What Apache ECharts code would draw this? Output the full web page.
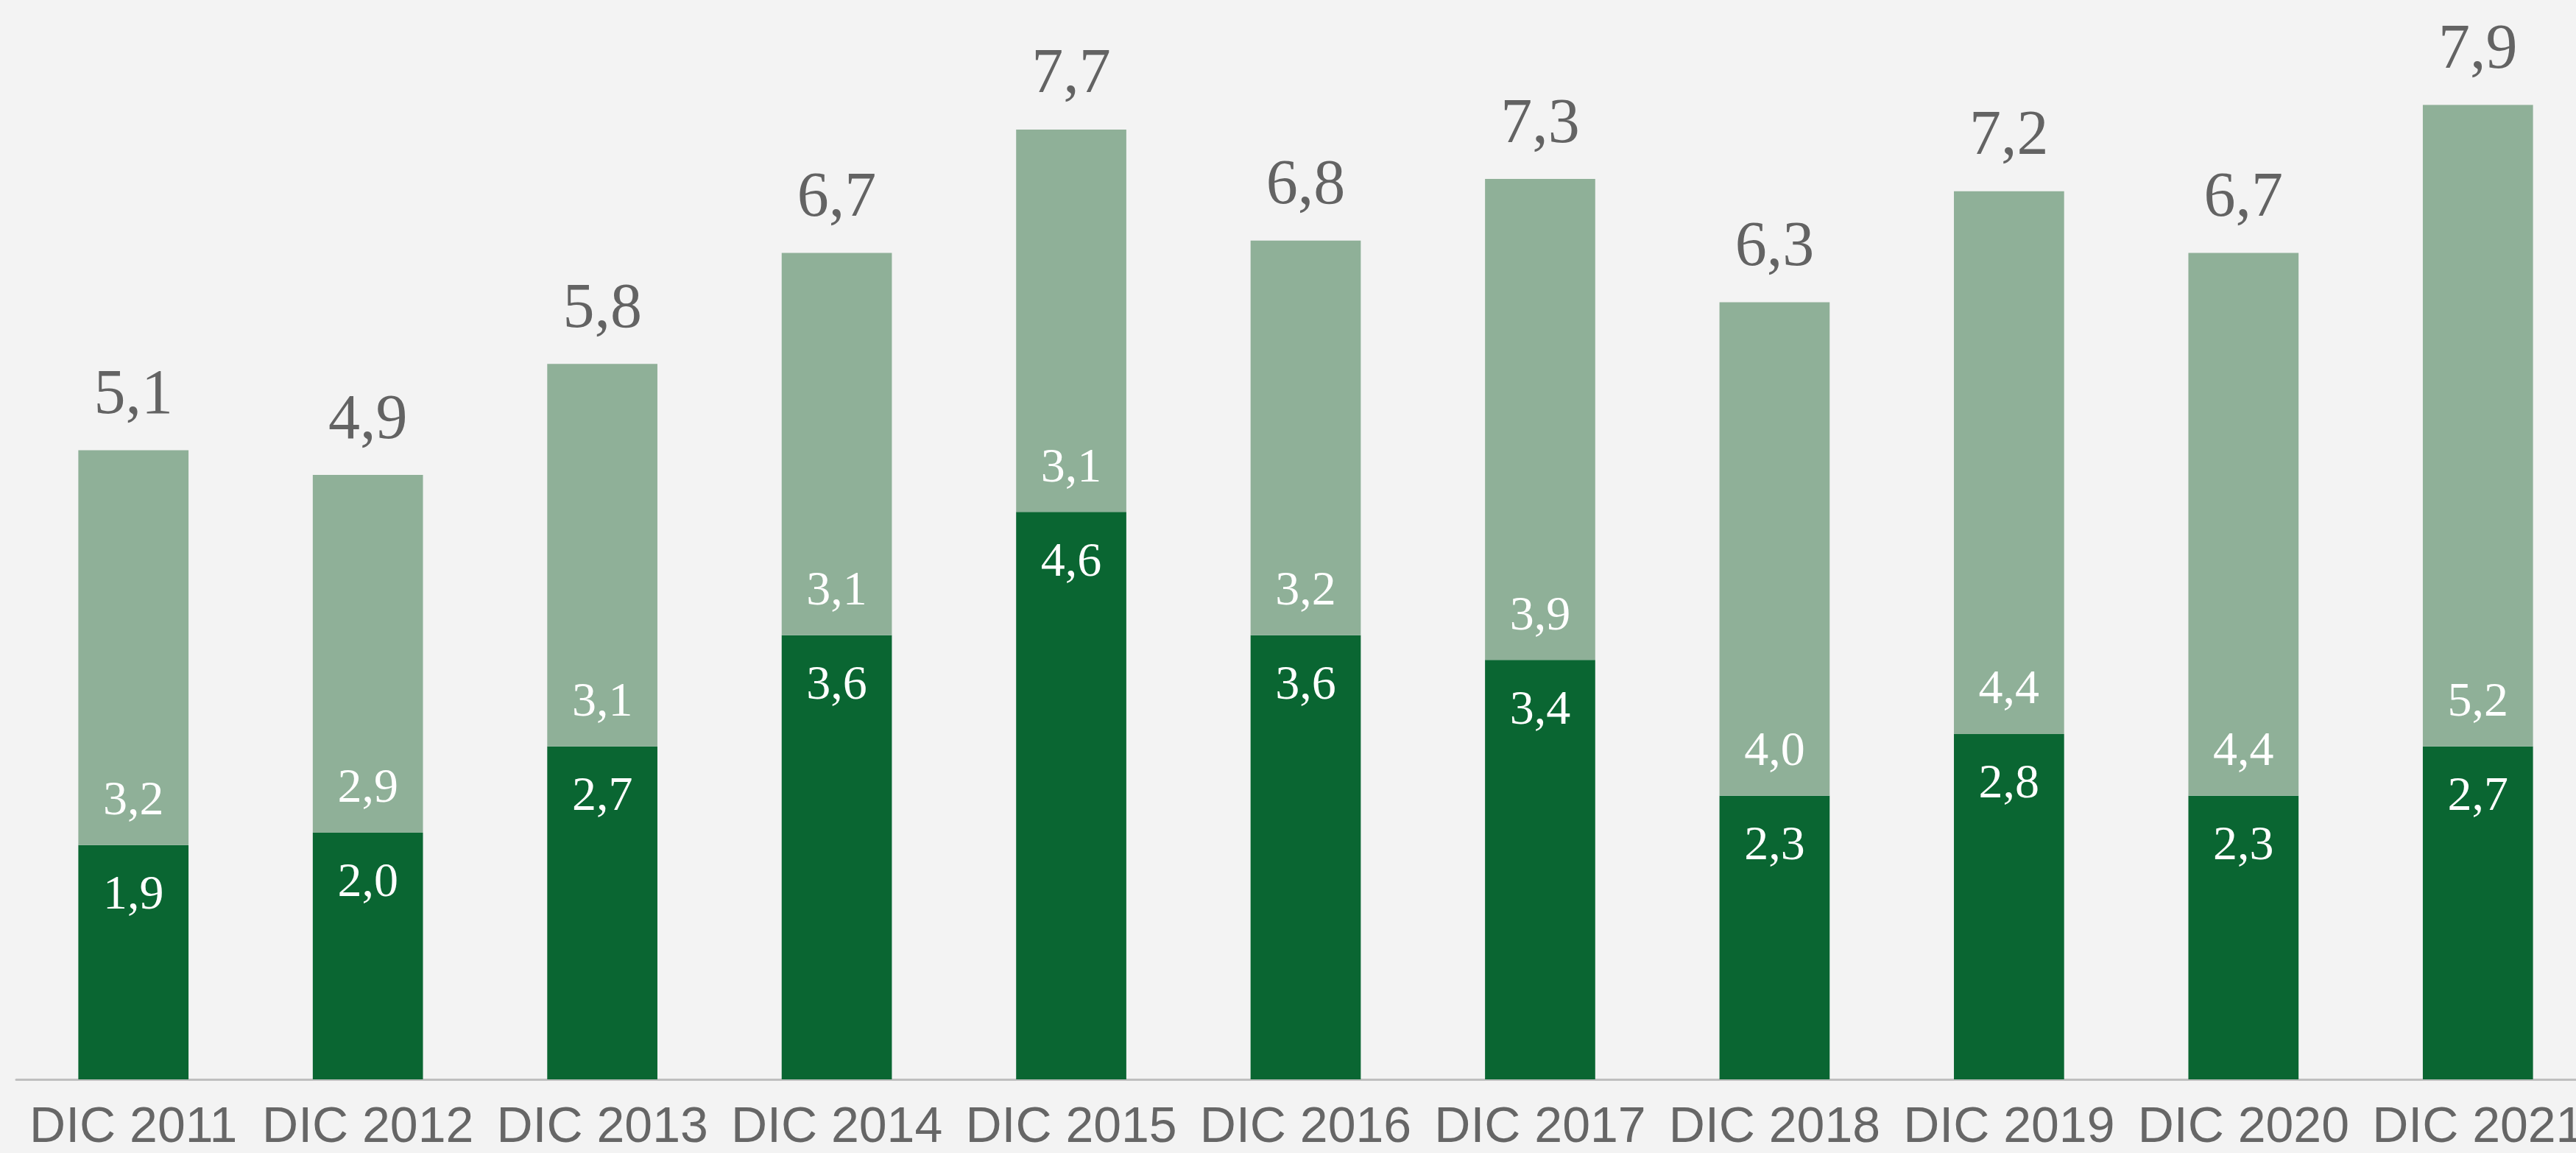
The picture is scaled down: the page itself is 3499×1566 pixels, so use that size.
<!DOCTYPE html>
<html>
<head>
<meta charset="utf-8">
<script src="https://cdn.jsdelivr.net/npm/echarts@6/dist/echarts.min.js"></script>
<style>
  html, body { margin: 0; padding: 0; background: #f3f3f3; }
  #chart { width: 3499px; height: 1566px; }
</style>
</head>
<body>
<div id="chart"></div>
<script>
// chart data
const categories = ['DIC 2011', 'DIC 2012', 'DIC 2013', 'DIC 2014', 'DIC 2015', 'DIC 2016',
  'DIC 2017', 'DIC 2018', 'DIC 2019', 'DIC 2020', 'DIC 2021'];
const darkValues = [1.9, 2.0, 2.7, 3.6, 4.6, 3.6, 3.4, 2.3, 2.8, 2.3, 2.7];
const lightValues = [3.2, 2.9, 3.1, 3.1, 3.1, 3.2, 3.9, 4.0, 4.4, 4.4, 5.2];
const totals = [5.1, 4.9, 5.8, 6.7, 7.7, 6.8, 7.3, 6.3, 7.2, 6.7, 7.9];

const fmt = v => v.toFixed(1).replace('.', ',');

const chart = echarts.init(document.getElementById('chart'));

const serif = "'Liberation Serif', 'Times New Roman', serif";

const option = {
  backgroundColor: '#f3f3f3',
  animation: false,
  // plot runs a little past the right edge, as in the original
  grid: { left: 22, width: 3503, top: 0, bottom: 100, containLabel: false, outerBoundsMode: 'none' },
  xAxis: {
    type: 'category',
    data: categories,
    axisLine: { lineStyle: { color: '#bfbfbf', width: 3 } },
    axisTick: { interval: 0, length: 20, lineStyle: { color: '#bfbfbf', width: 3 } },
    axisLabel: {
      interval: 0,
      color: '#666666',
      fontSize: 68,
      fontFamily: "'Liberation Sans', Arial, sans-serif",
      margin: 32
    }
  },
  yAxis: {
    type: 'value',
    min: 0,
    max: 8.75,
    show: false,
    splitLine: { show: false }
  },
  series: [
    {
      name: 'dark',
      type: 'bar',
      stack: 'total',
      barWidth: '47%',
      data: darkValues,
      itemStyle: { color: '#0a6632' },
      label: {
        show: true,
        position: 'insideTop',
        distance: 36,
        color: '#ffffff',
        fontSize: 66,
        fontFamily: serif,
        formatter: p => fmt(p.value)
      }
    },
    {
      name: 'light',
      type: 'bar',
      stack: 'total',
      data: lightValues,
      itemStyle: { color: '#8fb098' },
      label: {
        show: true,
        position: 'insideBottom',
        distance: 26,
        color: '#ffffff',
        fontSize: 66,
        fontFamily: serif,
        formatter: p => fmt(p.value)
      }
    },
    {
      // zero-height series carrying the total labels
      name: 'total',
      type: 'bar',
      stack: 'total',
      data: totals.map(() => 0),
      itemStyle: { color: 'transparent' },
      label: {
        show: true,
        position: 'top',
        distance: 30,
        color: '#636363',
        fontSize: 86,
        fontFamily: serif,
        formatter: p => fmt(totals[p.dataIndex])
      }
    }
  ]
};

chart.setOption(option);
</script>
</body>
</html>
